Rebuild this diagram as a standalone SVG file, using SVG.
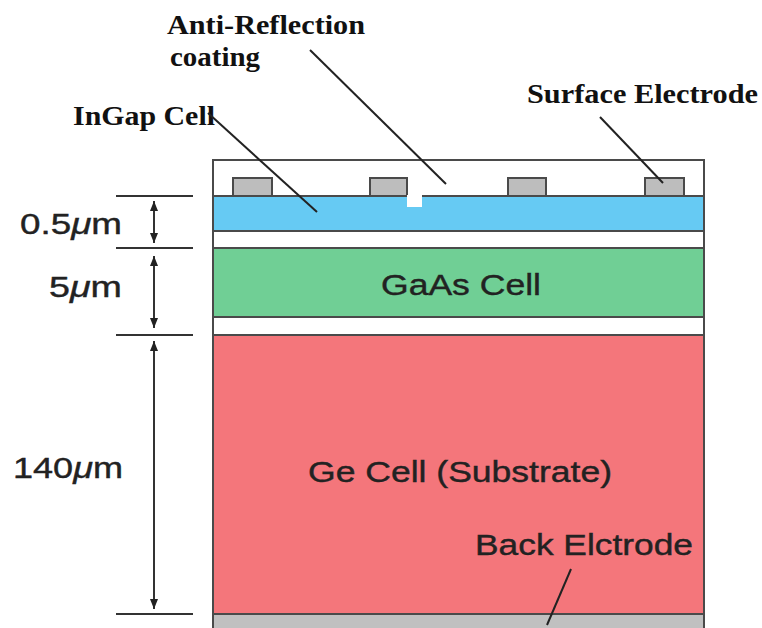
<svg xmlns="http://www.w3.org/2000/svg" width="762" height="628" viewBox="0 0 762 628">
<style>
.layer{stroke:#4a4a4a;stroke-width:2}
.elec{fill:#bdbdbd;stroke:#4a4a4a;stroke-width:2}
.tick{stroke:#333;stroke-width:2}
.dim{stroke:#333;stroke-width:2;fill:none;marker-start:url(#ah);marker-end:url(#ah)}
.lead{stroke:#222;stroke-width:2;fill:none}
.serif{font-family:"Liberation Serif","Times New Roman",serif;font-weight:bold;font-size:27px;fill:#111}
.sans{font-family:"Liberation Sans",Arial,sans-serif;font-size:29px;fill:#222;stroke:#222;stroke-width:0.4}
.mu{font-style:italic}
</style>
<defs>
<marker id="ah" viewBox="0 0 10 8" refX="10" refY="4" markerWidth="10" markerHeight="8" markerUnits="userSpaceOnUse" orient="auto-start-reverse">
<path d="M0,0 L10,4 L0,8 z" fill="#222"/>
</marker>
</defs>
<rect width="762" height="628" fill="#fff"/>

<g id="ar-coating">
<rect class="layer" x="213" y="160" width="491" height="36" fill="#fff"/>
</g>
<g id="surface-electrodes">
<rect class="elec" x="233" y="178" width="39" height="18"/>
<rect class="elec" x="370" y="178" width="37" height="18"/>
<rect class="elec" x="508" y="178" width="38" height="18"/>
<rect class="elec" x="645" y="178" width="39" height="18"/>
</g>
<g id="ingap-cell">
<rect class="layer" x="213" y="196" width="491" height="35" fill="#66caf3"/>
<rect x="407" y="195" width="15" height="12" fill="#fff"/>
</g>
<g id="spacer-1">
<rect class="layer" x="213" y="231" width="491" height="17" fill="#fff"/>
</g>
<g id="gaas-cell">
<rect class="layer" x="213" y="248" width="491" height="69" fill="#70cf95"/>
<text class="sans" x="461" y="295" text-anchor="middle" textLength="160" lengthAdjust="spacingAndGlyphs">GaAs Cell</text>
</g>
<g id="spacer-2">
<rect class="layer" x="213" y="317" width="491" height="18" fill="#fff"/>
</g>
<g id="ge-cell">
<rect class="layer" x="213" y="335" width="491" height="279" fill="#f4767b"/>
<text class="sans" x="460" y="482" text-anchor="middle" textLength="304" lengthAdjust="spacingAndGlyphs">Ge Cell (Substrate)</text>
</g>
<g id="back-electrode">
<rect class="layer" x="213" y="614" width="491" height="20" fill="#c0c0c0"/>
<text class="sans" x="475" y="555" textLength="218" lengthAdjust="spacingAndGlyphs">Back Elctrode</text>
</g>

<g id="labels">
<text class="serif" x="167" y="34" textLength="198" lengthAdjust="spacingAndGlyphs">Anti-Reflection</text>
<text class="serif" x="170" y="66" textLength="90" lengthAdjust="spacingAndGlyphs">coating</text>
<text class="serif" x="73" y="125" textLength="142" lengthAdjust="spacingAndGlyphs">InGap Cell</text>
<text class="serif" x="527" y="103" textLength="231" lengthAdjust="spacingAndGlyphs">Surface Electrode</text>
</g>

<g id="dimensions">
<line class="tick" x1="116" y1="196" x2="193" y2="196"/>
<line class="tick" x1="116" y1="248" x2="193" y2="248"/>
<line class="tick" x1="116" y1="335" x2="193" y2="335"/>
<line class="tick" x1="116" y1="614" x2="193" y2="614"/>
<text class="sans" x="20" y="234" textLength="102" lengthAdjust="spacingAndGlyphs">0.5<tspan class="mu">μ</tspan>m</text>
<text class="sans" x="49" y="297" textLength="73" lengthAdjust="spacingAndGlyphs">5<tspan class="mu">μ</tspan>m</text>
<text class="sans" x="13" y="478" textLength="110" lengthAdjust="spacingAndGlyphs">140<tspan class="mu">μ</tspan>m</text>
</g>

<g id="connectors">
<line class="dim" x1="154" y1="201" x2="154" y2="243"/>
<line class="dim" x1="154" y1="256" x2="154" y2="328"/>
<line class="dim" x1="154" y1="341" x2="154" y2="609"/>
<line class="lead" x1="310" y1="50" x2="446" y2="184"/>
<line class="lead" x1="208" y1="113" x2="317" y2="212"/>
<line class="lead" x1="600" y1="117" x2="663" y2="183"/>
<line class="lead" x1="571" y1="569" x2="547" y2="625"/>
</g>
</svg>
